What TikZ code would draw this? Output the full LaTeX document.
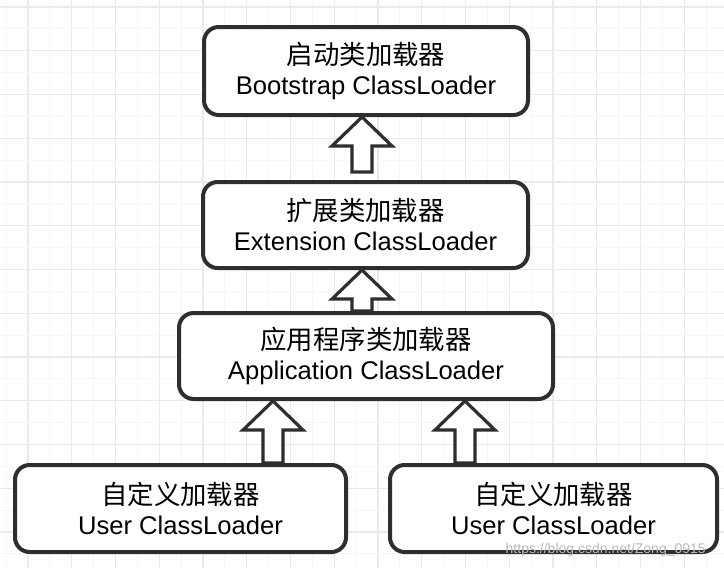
\documentclass[tikz,border=0pt]{standalone}
\usepackage{fontspec}
\setmainfont{Liberation Sans}
\newfontfamily\cjk{Noto Sans CJK SC}
\usetikzlibrary{calc}
\definecolor{edge}{HTML}{2E2E2E}
\definecolor{gridmaj}{HTML}{EAE8F0}
\definecolor{gridmin}{HTML}{F6F5F9}
\newcommand\blockarrow[2]{%
  \draw[blk] let \p1=(#1), \p2=(#2) in
    (\x1,\y1) -- (\x1+22.5pt,\y1-21.75pt) -- (\x1+7.5pt,\y1-21.75pt)
    -- (\x1+7.5pt,\y2) -- (\x1-7.5pt,\y2) -- (\x1-7.5pt,\y1-21.75pt)
    -- (\x1-22.5pt,\y1-21.75pt) -- cycle;}
\newcommand\zh[1]{{\cjk\fontsize{19.8}{22.5}\selectfont #1}}
\begin{document}
\begin{tikzpicture}[x=0.75pt,y=-0.75pt,
  box/.style={draw=edge, line width=3pt, rounded corners=11pt, fill=white,
    align=center, inner sep=0pt, font=\fontsize{19.2}{22.5}\selectfont},
  blk/.style={draw=edge, line width=2.4pt, fill=white, line join=miter},
  gmaj/.style={draw=gridmaj, line width=0.9pt},
  gmin/.style={draw=gridmin, line width=0.7pt}]
\useasboundingbox (0,0) rectangle (724,568);
\fill[white] (0,0) rectangle (724,568);
% grid
\foreach \i in {0,...,16} {
  \draw[gmin] ({6.125+43.75*\i},0) -- ({6.125+43.75*\i},568);
  \draw[gmaj] ({28+43.75*\i},0) -- ({28+43.75*\i},568);
}
\foreach \i in {0,...,13} {
  \draw[gmin] (0,{28.875+43.75*\i}) -- (724,{28.875+43.75*\i});
  \draw[gmaj] (0,{7+43.75*\i}) -- (724,{7+43.75*\i});
}
% boxes
\node[box, minimum width=243pt, minimum height=66pt] (boot) at (366,71)
  {\zh{启动类加载器}\\Bootstrap ClassLoader};
\node[box, minimum width=243.75pt, minimum height=64.5pt] (ext) at (365.5,225)
  {\zh{扩展类加载器}\\Extension ClassLoader};
\node[box, minimum width=280.5pt, minimum height=64.5pt] (app) at (366,356)
  {\zh{应用程序类加载器}\\Application ClassLoader};
\node[box, minimum width=248.25pt, minimum height=65.25pt] (user1) at (180.5,508.5)
  {\zh{自定义加载器}\\User ClassLoader};
\node[box, minimum width=245.25pt, minimum height=65.25pt] (user2) at (553.5,508.5)
  {\zh{自定义加载器}\\User ClassLoader};
% arrow anchors
\path (boot.south) ++(-4,0) coordinate (t1);
\path (ext.north) ++(0,-8) coordinate (b1);
\path (ext.south) ++(-3.5,0) coordinate (t2);
\path (app.south) ++(-93,0) coordinate (t3);
\path (app.south) ++(99,0) coordinate (t4);
\blockarrow{t1}{b1}
\blockarrow{t2}{app.north}
\blockarrow{t3}{user1.north}
\blockarrow{t4}{user2.north}
% watermark
\node[text=gray!55, font=\fontsize{10.5}{12}\selectfont, anchor=east, inner sep=0pt]
  (wm) at (706,550) {https://blog.csdn.net/Zong\_0915};
\end{tikzpicture}
\end{document}
